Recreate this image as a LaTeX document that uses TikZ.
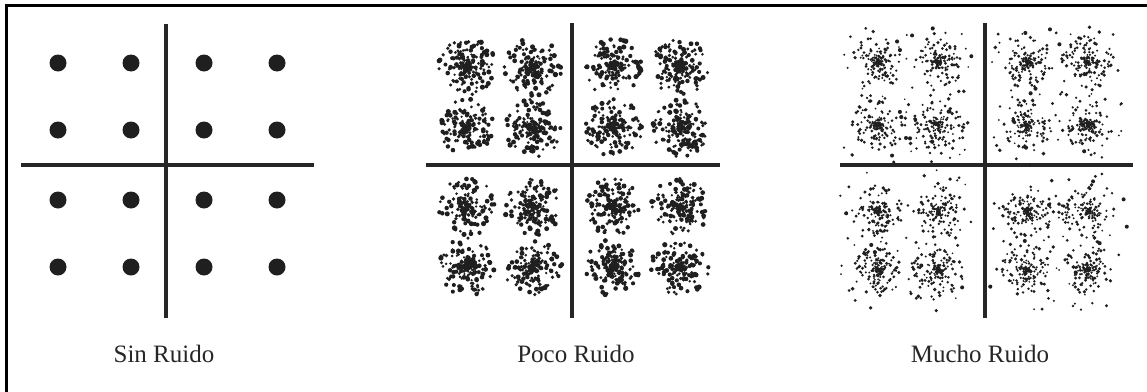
\documentclass[tikz,border=0pt]{standalone}
\usepackage{fontspec}
\setmainfont{Liberation Serif}
\tikzset{
  axisline/.style={line width=3.2pt, draw=black!85},
  bigdot/.style={fill=black!88},
  scat/.style={fill=black!88},
  frameline/.style={line width=2.5pt, draw=black},
  lbl/.style={font=\fontsize{25}{25}\selectfont, text=black!85, inner sep=0pt}
}
% Power-law cluster: cx, cy, n, R, p, rmin, rmax
\newcommand\plcluster[7]{%
  \foreach \k in {1,...,#3}{%
    \pgfmathsetmacro\ff{pow(rnd,#5)}%
    \pgfmathsetmacro\rr{#4*\ff}%
    \pgfmathsetmacro\aa{360*rnd}%
    \pgfmathsetmacro\ds{#6+(#7-#6)*(0.7*rnd+0.3*\ff)}%
    \fill[scat] ({#1+\rr*cos(\aa)},{#2+\rr*sin(\aa)}) circle[radius=\ds pt];
  }%
}
% Uniform-disc scatter: cx, cy, n, R, rmin, rmax
\newcommand\wideScatter[6]{%
  \foreach \k in {1,...,#3}{%
    \pgfmathsetmacro\rr{#4*sqrt(rnd)}%
    \pgfmathsetmacro\aa{360*rnd}%
    \pgfmathsetmacro\ds{#5+(#6-#5)*rnd}%
    \fill[scat] ({#1+\rr*cos(\aa)},{#2+\rr*sin(\aa)}) circle[radius=\ds pt];
  }%
}
\begin{document}
\begin{tikzpicture}[x=1pt,y=-1pt]
\pgfmathsetseed{9173}
\useasboundingbox (0,0) rectangle (1147,391);
% frame (only top and left edges visible)
\draw[frameline] (6.5,400) -- (6.5,5.5) -- (1160,5.5);

% ---------- Sin Ruido ----------
\coordinate (a1t) at (166,24); \coordinate (a1b) at (166,318);
\coordinate (a1l) at (21,165); \coordinate (a1r) at (314,165);
\draw[axisline] (a1t) -- (a1b);
\draw[axisline] (a1l) -- (a1r);
\foreach \x in {58,131,204,277}{
  \foreach \y in {63,130,200,267}{
    \fill[bigdot] (\x,\y) circle[radius=8.5pt];
  }
}
\node[lbl] (l1) at (164,354) {Sin Ruido};

% ---------- Poco Ruido ----------
\coordinate (a2t) at (572,23); \coordinate (a2b) at (572,318);
\coordinate (a2l) at (426,165); \coordinate (a2r) at (720,165);
\draw[axisline] (a2t) -- (a2b);
\draw[axisline] (a2l) -- (a2r);
\foreach \x in {467,533,613,680}{
  \foreach \y in {67,128,207,267}{
    \plcluster{\x}{\y}{200}{29}{1.5}{1.0}{2.7}
  }
}
\node[lbl] (l2) at (576,354) {Poco Ruido};

% ---------- Mucho Ruido ----------
\coordinate (a3t) at (985,23); \coordinate (a3b) at (985,318);
\coordinate (a3l) at (840,165); \coordinate (a3r) at (1133,165);
\draw[axisline] (a3t) -- (a3b);
\draw[axisline] (a3l) -- (a3r);
\foreach \x in {878,938,1027,1088}{
  \foreach \y in {62,125,212,270}{
    \plcluster{\x}{\y}{160}{26}{1.7}{0.8}{1.9}
    \wideScatter{\x}{\y}{24}{42}{0.9}{2.1}
  }
}
\node[lbl] (l3) at (980,354) {Mucho Ruido};
\end{tikzpicture}
\end{document}
